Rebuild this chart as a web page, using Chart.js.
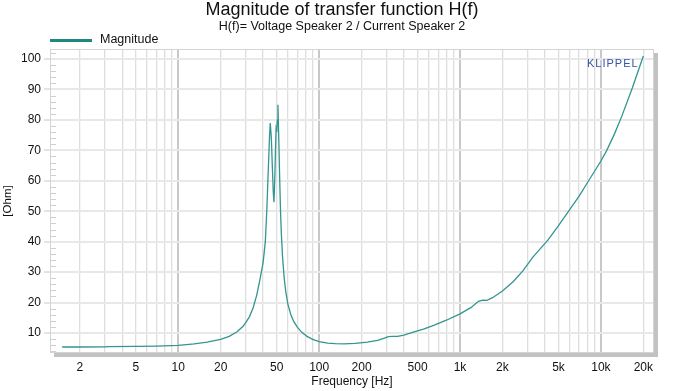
<!DOCTYPE html>
<html>
<head>
<meta charset="utf-8">
<script src="https://cdn.jsdelivr.net/npm/chart.js@4/dist/chart.umd.min.js"></script>
<style>
  html, body { margin: 0; padding: 0; background: #fff; }
  #wrap { width: 682px; height: 391px; }
</style>
</head>
<body>
<div id="wrap"><canvas id="chart" width="682" height="391"></canvas></div>
<script>
// --- data ---
const freqs = [1.5, 2, 3, 3.2, 5, 7, 10, 13, 16, 20, 23, 26, 29, 32, 34, 36, 38, 40, 41.5, 42.5,
  43.5, 44.5, 45, 45.8, 46.6, 47.3, 47.8, 48.4, 49, 49.5, 50, 50.5, 51, 51.7, 52.4, 53.2, 54, 55,
  56.5, 58, 60, 63, 66, 70, 75, 82, 90, 100, 115, 130, 150, 180, 220, 260, 290, 310, 330, 360,
  400, 460, 550, 650, 800, 1000, 1200, 1350, 1450, 1550, 1700, 2000, 2400, 2800, 3300, 4200,
  5000, 6000, 7000, 8300, 10000, 11000, 12500, 14000, 16700, 18500, 20000];
const ohms = [5.4, 5.4, 5.45, 5.55, 5.6, 5.7, 5.95, 6.4, 7.0, 7.9, 8.9, 10.3, 12.3, 15.3, 18.3, 22.3, 27.5, 33, 40, 50,
  63, 75, 79, 74, 64, 56, 53, 60, 70, 77, 76, 80, 85, 74, 62, 50, 42, 35,
  28, 23.5, 19.5, 16, 13.8, 11.9, 10.3, 8.9, 7.9, 7.2, 6.7, 6.5, 6.45, 6.6, 7.0, 7.6, 8.3, 8.8, 8.9, 8.9,
  9.3, 10.2, 11.3, 12.5, 14.2, 16.3, 18.4, 20.4, 20.8, 20.7, 21.6, 23.8, 27, 30.5, 35, 40.5,
  45.3, 50.5, 55, 60.5, 66.5, 70, 75.5, 81, 90.5, 96.5, 101];

const yTicks = [10, 20, 30, 40, 50, 60, 70, 80, 90, 100];
const xLabels = { 2: '2', 5: '5', 10: '10', 20: '20', 50: '50', 100: '100', 200: '200', 500: '500',
  1000: '1k', 2000: '2k', 5000: '5k', 10000: '10k', 20000: '20k' };
const xGrid = [];
[1, 10, 100, 1000, 10000].forEach(d => {
  for (let m = 1; m <= 9; m++) {
    const v = m * d;
    if (v >= 2 && v <= 20000) xGrid.push(v);
  }
});

const TEAL = '#33958f';
const FONT = 'Arial, "Liberation Sans", sans-serif';

// frame, shadow, minor ticks, titles, legend, logo
const decor = {
  id: 'decor',
  beforeDatasetsDraw(chart) {
    const { ctx, chartArea: a, scales: { y } } = chart;
    ctx.save();
    ctx.strokeStyle = '#cfcfcf';
    ctx.lineWidth = 1;
    for (let v = 4; v <= 102; v += 2) {
      if (v % 10 === 0) continue;
      const py = Math.round(y.getPixelForValue(v)) + 0.5;
      ctx.beginPath();
      ctx.moveTo(a.left + 1, py);
      ctx.lineTo(a.left + 6, py);
      ctx.stroke();
    }
    ctx.restore();
  },
  afterDraw(chart) {
    const { ctx, chartArea: a } = chart;
    ctx.save();
    // frame
    ctx.strokeStyle = '#d4d4d4';
    ctx.lineWidth = 1;
    ctx.strokeRect(a.left + 0.5, a.top + 0.5, a.right - a.left - 1, a.bottom - a.top - 1);
    // shadow
    ctx.fillStyle = '#c2c2c2';
    ctx.fillRect(a.left + 4, a.bottom, a.right - a.left, 4);
    ctx.fillRect(a.right, a.top + 4, 4, a.bottom - a.top);

    // titles
    ctx.fillStyle = '#111';
    ctx.textAlign = 'center';
    ctx.textBaseline = 'middle';
    ctx.font = '18px ' + FONT;
    ctx.fillText('Magnitude of transfer function H(f)', 342, 10);
    ctx.font = '12.5px ' + FONT;
    ctx.fillText('H(f)= Voltage Speaker 2 / Current Speaker 2', 342, 27);

    // legend
    ctx.fillStyle = '#1f877f';
    ctx.fillRect(50, 39, 42, 3);
    ctx.fillStyle = '#111';
    ctx.textAlign = 'left';
    ctx.font = '12.5px ' + FONT;
    ctx.fillText('Magnitude', 100, 40);

    // logo
    ctx.fillStyle = '#3554a4';
    ctx.font = '11px ' + FONT;
    ctx.letterSpacing = '1px';
    ctx.fillText('KLIPPEL', 587, 64);
    ctx.restore();
  }
};

const ctx = document.getElementById('chart').getContext('2d');
new Chart(ctx, {
  type: 'line',
  data: {
    datasets: [{
      label: 'Magnitude',
      data: freqs.map((f, i) => ({ x: f, y: ohms[i] })),
      borderColor: TEAL,
      backgroundColor: TEAL,
      borderWidth: 1.3,
      pointRadius: 0,
      tension: 0,
      fill: false
    }]
  },
  options: {
    responsive: false,
    animation: false,
    events: [],
    layout: { padding: { top: 49, right: 28, left: 0, bottom: 0 } },
    plugins: { legend: { display: false }, title: { display: false }, tooltip: { enabled: false } },
    scales: {
      x: {
        type: 'logarithmic',
        min: 1.23,
        max: 23800,
        afterFit: s => { s.height = 38; },
        afterBuildTicks: s => { s.ticks = xGrid.map(v => ({ value: v })); },
        border: { display: false },
        grid: {
          drawTicks: false,
          color: c => [10, 100, 1000, 10000].includes(c.tick && c.tick.value) ? '#c8c8c8' : '#dedede',
          lineWidth: c => [10, 100, 1000, 10000].includes(c.tick && c.tick.value) ? 2 : 1.3
        },
        ticks: {
          autoSkip: false,
          maxRotation: 0,
          padding: 7,
          color: '#111',
          font: { family: FONT, size: 12 },
          callback: v => xLabels[v] || ''
        },
        title: {
          display: true,
          text: 'Frequency [Hz]',
          color: '#111',
          font: { family: FONT, size: 12 },
          padding: { top: 0, bottom: 2 }
        }
      },
      y: {
        type: 'linear',
        min: 3.43,
        max: 103.3,
        afterFit: s => { s.width = 50; },
        afterBuildTicks: s => { s.ticks = yTicks.map(v => ({ value: v })); },
        border: { display: false },
        grid: { color: '#e8e8e8', lineWidth: 2, tickLength: 6, tickColor: '#c8c8c8', tickWidth: 1 },
        ticks: {
          padding: 3,
          color: '#111',
          font: { family: FONT, size: 12 },
          callback: v => String(v)
        },
        title: {
          display: true,
          text: '[Ohm]',
          color: '#111',
          font: { family: FONT, size: 11.5 },
          padding: { top: 1, bottom: 0 }
        }
      }
    }
  },
  plugins: [decor]
});
</script>
</body>
</html>
